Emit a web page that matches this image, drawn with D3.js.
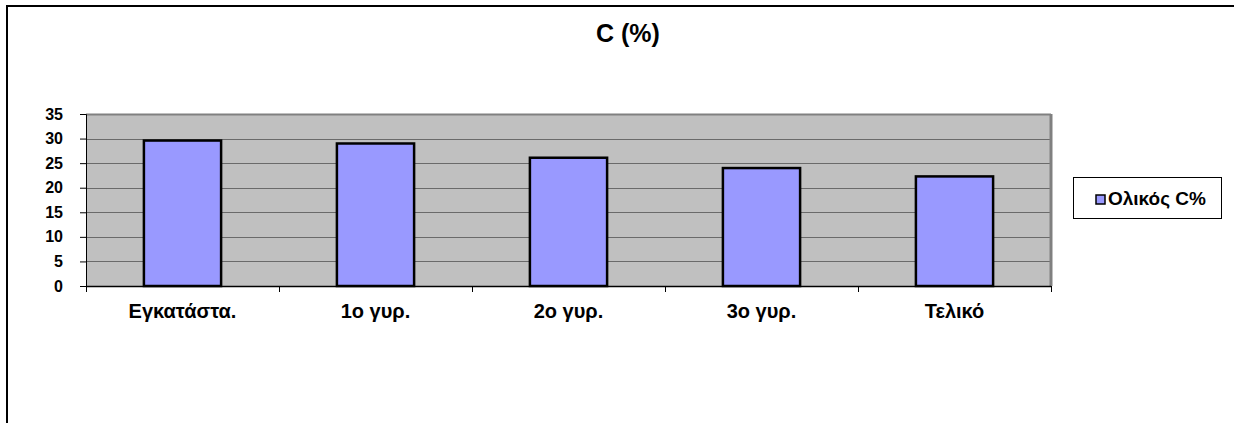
<!DOCTYPE html>
<html>
<head>
<meta charset="utf-8">
<script src="https://cdn.jsdelivr.net/npm/d3@7"></script>
<style>
  html, body { margin: 0; padding: 0; background: #fff; }
  svg { display: block; font-family: Arial, "Liberation Sans", sans-serif; }
</style>
</head>
<body>
<svg id="chart" width="1234" height="423"></svg>
<script>
// Stages of the process and total carbon content (%)
const categories = ["Εγκατάστα.", "1ο γυρ.", "2ο γυρ.", "3ο γυρ.", "Τελικό"];
const carbonValues = [29.6, 29.0, 26.1, 24.0, 22.3];
const yTicks = [0, 5, 10, 15, 20, 25, 30, 35];
const seriesName = "Ολικός C%";
const chartTitle = "C (%)";

const svg = d3.select("#chart");

// Outer chart frame (left and top edges visible)
svg.append("path")
  .attr("d", "M7,423 V6 H1234")
  .attr("fill", "none")
  .attr("stroke", "#000")
  .attr("stroke-width", 2);

// Title
svg.append("text")
  .attr("x", 628)
  .attr("y", 42)
  .attr("text-anchor", "middle")
  .attr("font-size", 25)
  .attr("font-weight", "bold")
  .text(chartTitle);

const plot = { left: 86, right: 1051, top: 114, bottom: 286 };

const x = d3.scaleBand()
  .domain(categories)
  .range([plot.left, plot.right])
  .paddingInner(0.6)
  .paddingOuter(0.3);

const xGroup = d3.scaleBand()
  .domain(categories)
  .range([plot.left, plot.right]);

const y = d3.scaleLinear()
  .domain([0, 35])
  .range([plot.bottom, plot.top]);

// Plot background
svg.append("rect")
  .attr("x", plot.left)
  .attr("y", plot.top)
  .attr("width", plot.right - plot.left)
  .attr("height", plot.bottom - plot.top)
  .attr("fill", "#c0c0c0");

// Horizontal gridlines
svg.append("g")
  .selectAll("line")
  .data(yTicks.filter(d => d > 0))
  .join("line")
  .attr("x1", plot.left)
  .attr("x2", plot.right)
  .attr("y1", d => Math.round(y(d)) + 0.5)
  .attr("y2", d => Math.round(y(d)) + 0.5)
  .attr("stroke", d => d === 35 ? "#808080" : "#6a6a6a")
  .attr("stroke-width", d => d === 35 ? 2 : 1);

// Right edge shadow of plot area
svg.append("line")
  .attr("x1", plot.right)
  .attr("x2", plot.right)
  .attr("y1", plot.top)
  .attr("y2", plot.bottom)
  .attr("stroke", "#808080")
  .attr("stroke-width", 3);

// Bars
svg.append("g")
  .selectAll("rect")
  .data(categories.map((c, i) => ({ c, v: carbonValues[i] })))
  .join("rect")
  .attr("x", d => x(d.c))
  .attr("y", d => y(d.v))
  .attr("width", x.bandwidth())
  .attr("height", d => y(0) - y(d.v))
  .attr("fill", "#9999ff")
  .attr("stroke", "#000")
  .attr("stroke-width", 2.5);

// Y axis
const yAxis = svg.append("g")
  .attr("transform", `translate(${plot.left},0)`)
  .call(d3.axisLeft(y).tickValues(yTicks).tickSize(6).tickPadding(17));
yAxis.select(".domain").attr("stroke", "#000").attr("stroke-width", 1);
yAxis.selectAll("text")
  .attr("font-size", 16)
  .attr("font-weight", "bold")
  .attr("font-family", "Arial, 'Liberation Sans', sans-serif")
  .attr("fill", "#000");

// X axis baseline and category boundary ticks
svg.append("line")
  .attr("x1", plot.left)
  .attr("x2", plot.right)
  .attr("y1", plot.bottom + 0.5)
  .attr("y2", plot.bottom + 0.5)
  .attr("stroke", "#000")
  .attr("stroke-width", 1.5);

const boundaries = categories.map(c => xGroup(c)).concat([plot.right]);
svg.append("g")
  .selectAll("line")
  .data(boundaries)
  .join("line")
  .attr("x1", d => Math.round(d) + 0.5)
  .attr("x2", d => Math.round(d) + 0.5)
  .attr("y1", plot.bottom)
  .attr("y2", plot.bottom + 6)
  .attr("stroke", "#000");

// Category labels
svg.append("g")
  .selectAll("text")
  .data(categories)
  .join("text")
  .attr("x", d => xGroup(d) + xGroup.bandwidth() / 2)
  .attr("y", 318)
  .attr("text-anchor", "middle")
  .attr("font-size", 20)
  .attr("font-weight", "bold")
  .text(d => d);

// Legend
const legend = svg.append("g").attr("transform", "translate(1073,177)");
legend.append("rect")
  .attr("x", 0.5)
  .attr("y", 0.5)
  .attr("width", 148)
  .attr("height", 41)
  .attr("fill", "#fff")
  .attr("stroke", "#000")
  .attr("stroke-width", 1);
legend.append("rect")
  .attr("x", 23)
  .attr("y", 18)
  .attr("width", 9)
  .attr("height", 9)
  .attr("fill", "#9999ff")
  .attr("stroke", "#000")
  .attr("stroke-width", 1.5);
legend.append("text")
  .attr("x", 35)
  .attr("y", 28)
  .attr("font-size", 19)
  .attr("font-weight", "bold")
  .text(seriesName);
</script>
</body>
</html>
